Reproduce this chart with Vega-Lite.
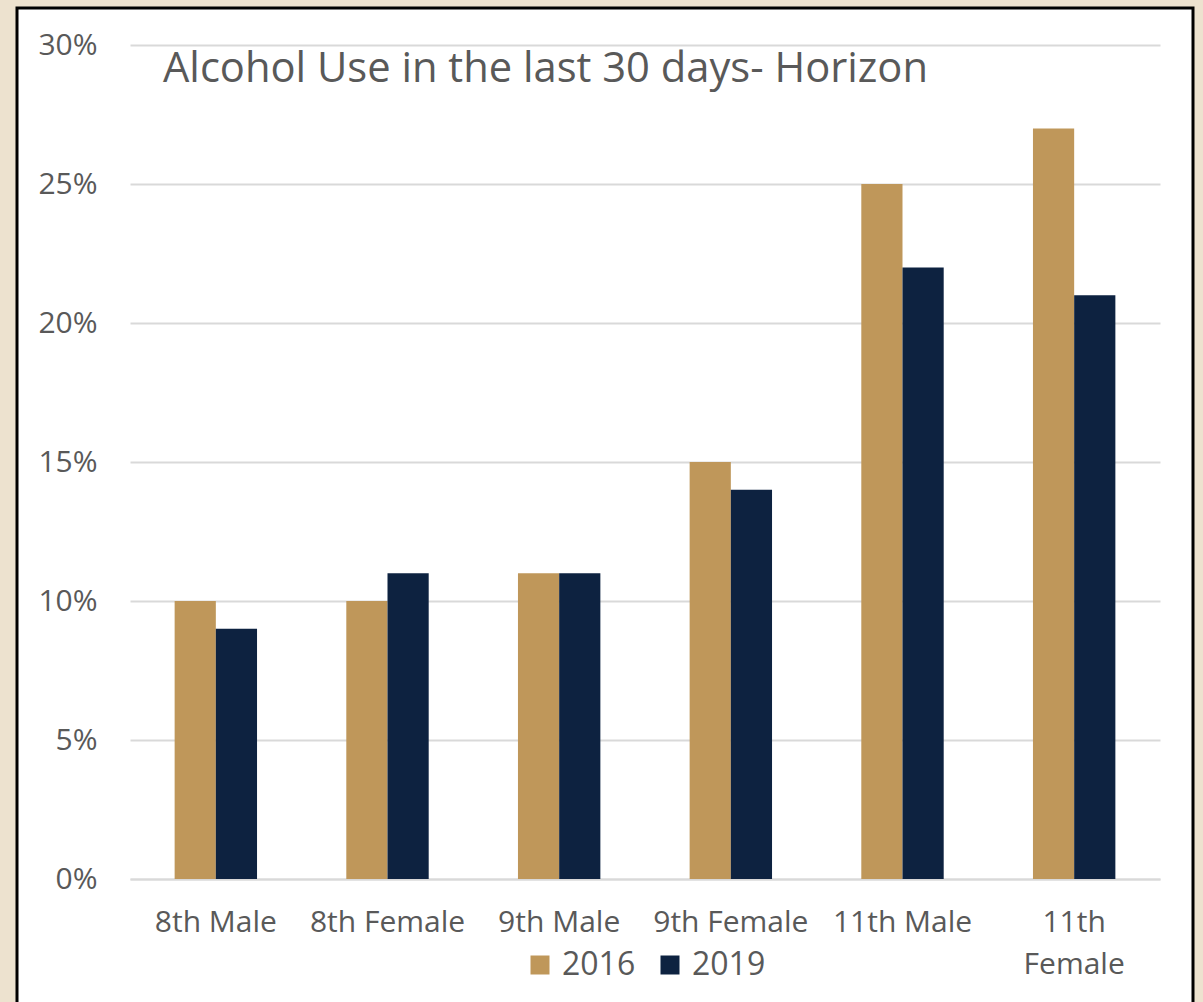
{
  "$schema": "https://vega.github.io/schema/vega-lite/v6.json",
  "autosize": "none",
  "width": 1176,
  "height": 996,
  "padding": {"left": 17, "top": 8, "right": 10, "bottom": 0},
  "background": "#ede2cf",
  "config": {
    "font": "Open Sans",
    "view": {"fill": "white", "stroke": "black", "strokeWidth": 3}
  },
  "title": {
    "text": "Alcohol Use in the last 30 days- Horizon",
    "anchor": "start",
    "frame": "group",
    "font": "Open Sans",
    "fontSize": 41.7,
    "fontWeight": "normal",
    "color": "#595959",
    "baseline": "alphabetic",
    "offset": -72,
    "dx": 146,
    "dy": 44
  },
  "data": {
    "values": [
      {"group": "8th Male", "year": "2016", "pct": 10},
      {"group": "8th Male", "year": "2019", "pct": 9},
      {"group": "8th Female", "year": "2016", "pct": 10},
      {"group": "8th Female", "year": "2019", "pct": 11},
      {"group": "9th Male", "year": "2016", "pct": 11},
      {"group": "9th Male", "year": "2019", "pct": 11},
      {"group": "9th Female", "year": "2016", "pct": 15},
      {"group": "9th Female", "year": "2019", "pct": 14},
      {"group": "11th Male", "year": "2016", "pct": 25},
      {"group": "11th Male", "year": "2019", "pct": 22},
      {"group": "11th Female", "year": "2016", "pct": 27},
      {"group": "11th Female", "year": "2019", "pct": 21}
    ]
  },
  "mark": {"type": "bar"},
  "encoding": {
    "x": {
      "field": "group",
      "type": "nominal",
      "sort": ["8th Male", "8th Female", "9th Male", "9th Female", "11th Male", "11th Female"],
      "scale": {"range": [113, 1143], "paddingInner": 0.52, "paddingOuter": 0.26},
      "axis": {
        "title": null,
        "orient": "bottom",
        "offset": -125,
        "labelAngle": 0,
        "labelFont": "Open Sans",
        "labelFontSize": 30,
        "labelColor": "#595959",
        "labelPadding": 28,
        "labelLineHeight": 42,
        "labelExpr": "datum.label == '11th Female' ? ['11th', 'Female'] : datum.label",
        "ticks": false,
        "tickSize": 0,
        "domain": true,
        "domainColor": "#d9d9d9",
        "domainWidth": 2,
        "grid": false
      }
    },
    "xOffset": {"field": "year", "type": "nominal"},
    "y": {
      "field": "pct",
      "type": "quantitative",
      "scale": {"domain": [0, 30], "range": [871, 37], "nice": false},
      "axis": {
        "title": null,
        "orient": "left",
        "offset": -113,
        "values": [0, 5, 10, 15, 20, 25, 30],
        "labelExpr": "datum.value + '%'",
        "labelFont": "Open Sans",
        "labelFontSize": 30,
        "labelColor": "#595959",
        "labelPadding": 33,
        "ticks": false,
        "tickSize": 0,
        "domain": false,
        "grid": true,
        "gridColor": "#d9d9d9",
        "gridWidth": 2
      }
    },
    "color": {
      "field": "year",
      "type": "nominal",
      "scale": {"domain": ["2016", "2019"], "range": ["#bf975a", "#0d2240"]},
      "legend": {
        "title": null,
        "orient": "none",
        "direction": "horizontal",
        "legendX": 507,
        "legendY": 941,
        "padding": 0,
        "symbolType": "square",
        "symbolSize": 361,
        "symbolStrokeWidth": 0,
        "labelFont": "Open Sans",
        "labelFontSize": 32,
        "labelColor": "#595959",
        "labelOffset": 6,
        "columnPadding": 18
      }
    }
  }
}
